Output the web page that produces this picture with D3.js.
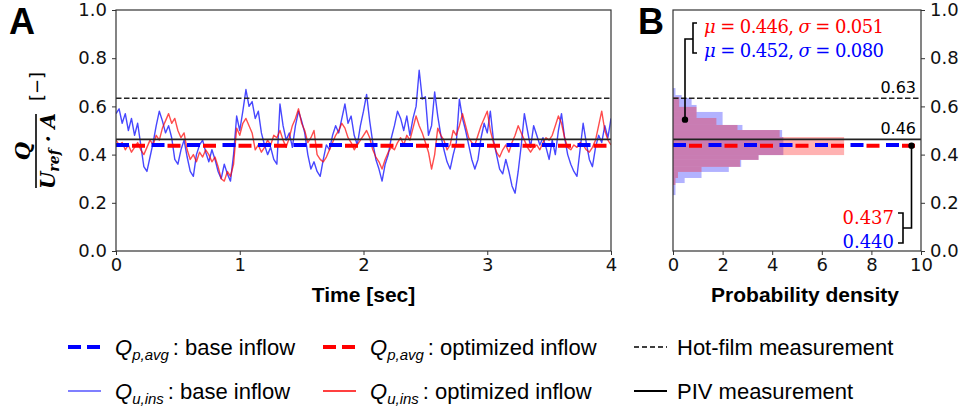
<!DOCTYPE html>
<html>
<head>
<meta charset="utf-8">
<script src="https://cdn.jsdelivr.net/npm/d3@7"></script>
<style>
  body { margin: 0; background: #fff; }
  svg { display: block; }
</style>
</head>
<body>
<div id="chart"></div>
<script>
// ---- data ----
const tStep = 0.025; // sec between samples

// Q_u,ins : base inflow
const qBase = [
  0.57, 0.59, 0.53, 0.57, 0.50, 0.55, 0.48, 0.53, 0.44, 0.35,
  0.33, 0.39, 0.45, 0.52, 0.58, 0.54, 0.49, 0.52, 0.47, 0.38,
  0.36, 0.42, 0.46, 0.39, 0.33, 0.31, 0.40, 0.44, 0.46, 0.41,
  0.37, 0.42, 0.38, 0.33, 0.30, 0.36, 0.32, 0.29, 0.40, 0.56,
  0.50, 0.58, 0.67, 0.60, 0.62, 0.55, 0.58, 0.49, 0.44, 0.40,
  0.43, 0.38, 0.36, 0.61, 0.52, 0.46, 0.49, 0.43, 0.52, 0.58,
  0.54, 0.49, 0.40, 0.34, 0.37, 0.33, 0.31, 0.38, 0.44, 0.42,
  0.48, 0.52, 0.49, 0.55, 0.61, 0.53, 0.56, 0.48, 0.44, 0.52,
  0.58, 0.65, 0.54, 0.45, 0.38, 0.34, 0.29, 0.36, 0.40, 0.47,
  0.52, 0.58, 0.55, 0.50, 0.56, 0.48, 0.55, 0.60, 0.75, 0.63,
  0.64, 0.48, 0.52, 0.66, 0.56, 0.48, 0.42, 0.37, 0.34, 0.40,
  0.45, 0.63, 0.55, 0.50, 0.44, 0.38, 0.34, 0.38, 0.47, 0.53,
  0.49, 0.58, 0.46, 0.40, 0.34, 0.32, 0.38, 0.33, 0.27, 0.24,
  0.33, 0.44, 0.57, 0.50, 0.43, 0.52, 0.48, 0.44, 0.47, 0.43,
  0.38, 0.46, 0.40, 0.50, 0.57, 0.47, 0.40, 0.36, 0.33, 0.31,
  0.42, 0.53, 0.45, 0.38, 0.35, 0.43, 0.48, 0.45, 0.52, 0.47,
  0.55
];

// Q_u,ins : optimized inflow
const qOpt = [
  0.46, 0.44, 0.45, 0.42, 0.44, 0.41, 0.43, 0.45, 0.42, 0.40,
  0.43, 0.46, 0.44, 0.48, 0.46, 0.51, 0.54, 0.57, 0.53, 0.55,
  0.50, 0.47, 0.49, 0.42, 0.38, 0.40, 0.37, 0.41, 0.39, 0.42,
  0.40, 0.37, 0.39, 0.35, 0.30, 0.29, 0.33, 0.31, 0.36, 0.51,
  0.48, 0.53, 0.55, 0.52, 0.49, 0.42, 0.44, 0.41, 0.43, 0.46,
  0.44, 0.48, 0.47, 0.50, 0.46, 0.43, 0.47, 0.52, 0.55, 0.59,
  0.53, 0.50, 0.45, 0.47, 0.50, 0.40, 0.38, 0.37, 0.39, 0.42,
  0.45, 0.48, 0.50, 0.53, 0.51, 0.47, 0.45, 0.42, 0.44, 0.46,
  0.48, 0.50, 0.47, 0.42, 0.39, 0.37, 0.34, 0.38, 0.41, 0.43,
  0.42, 0.45, 0.47, 0.44, 0.48, 0.46, 0.51, 0.56, 0.52, 0.49,
  0.45, 0.41, 0.34, 0.40, 0.51, 0.48, 0.46, 0.42, 0.44, 0.50,
  0.48, 0.52, 0.57, 0.52, 0.47, 0.45, 0.44, 0.48, 0.52, 0.55,
  0.58, 0.50, 0.45, 0.41, 0.39, 0.42, 0.44, 0.41, 0.45, 0.48,
  0.52, 0.49, 0.46, 0.43, 0.41, 0.43, 0.44, 0.42, 0.45, 0.47,
  0.46, 0.48, 0.52, 0.56, 0.53, 0.47, 0.43, 0.42, 0.44, 0.43,
  0.45, 0.44, 0.42, 0.41, 0.43, 0.46, 0.52, 0.58, 0.50, 0.46,
  0.44
];

// reference levels
const meanBase = 0.440;   // Q_p,avg base
const meanOpt = 0.437;    // Q_p,avg optimized
const hotFilm = 0.634;
const piv = 0.463;

// histograms (bin edges on Q, probability density)
const baseEdges = [0.232, 0.282, 0.303, 0.328, 0.349, 0.378, 0.398, 0.473, 0.502, 0.523, 0.552, 0.577, 0.606, 0.635, 0.647, 0.676];
const baseDens  = [0.10, 0.47, 1.15, 2.25, 2.75, 3.45, 4.45, 4.40, 2.80, 2.00, 2.00, 0.95, 0.75, 0.35, 0.10];
const optEdges  = [0.274, 0.303, 0.328, 0.349, 0.378, 0.398, 0.473, 0.502, 0.523, 0.552, 0.598, 0.639];
const optDens   = [0.10, 0.20, 1.15, 2.70, 3.45, 6.90, 4.30, 2.60, 1.75, 0.95, 0.25];

const stats = {
  opt:  {mu: "0.446", sigma: "0.051"},
  base: {mu: "0.452", sigma: "0.080"}
};

const timeTicks = [0, 1, 2, 3, 4];
const qTicks = [0, 0.2, 0.4, 0.6, 0.8, 1.0];
const densTicks = [0, 2, 4, 6, 8, 10];

// ---- layout ----
const width = 962, height = 411;
const aLeft = 116, aRight = 611, plotTop = 10, plotBottom = 251;
const bLeft = 673, bRight = 921;

const BLUE = "#0000ff", RED = "#ff0000";
const tickFont = "DejaVu Sans, sans-serif";

const svg = d3.select("#chart").append("svg")
  .attr("width", width)
  .attr("height", height)
  .attr("viewBox", [0, 0, width, height]);

const x = d3.scaleLinear([0, 4], [aLeft, aRight]);
const y = d3.scaleLinear([0, 1], [plotBottom, plotTop]);
const xd = d3.scaleLinear([0, 10], [bLeft, bRight]);

svg.append("defs").append("clipPath").attr("id", "clipA")
  .append("rect").attr("x", aLeft).attr("y", plotTop)
  .attr("width", aRight - aLeft).attr("height", plotBottom - plotTop);

// ================= panel A =================
const line = d3.line()
  .x((d, i) => x(i * tStep))
  .y(d => y(d));

const gA = svg.append("g").attr("clip-path", "url(#clipA)");

gA.append("path")
  .attr("fill", "none")
  .attr("stroke", BLUE)
  .attr("stroke-opacity", 0.72)
  .attr("stroke-width", 1.4)
  .attr("stroke-linejoin", "round")
  .attr("d", line(qBase));

gA.append("path")
  .attr("fill", "none")
  .attr("stroke", RED)
  .attr("stroke-opacity", 0.7)
  .attr("stroke-width", 1.4)
  .attr("stroke-linejoin", "round")
  .attr("d", line(qOpt));

// reference lines, shared by both panels
function refLines(g, x0, x1) {
  g.append("line")
    .attr("x1", x0).attr("x2", x1)
    .attr("y1", y(hotFilm)).attr("y2", y(hotFilm))
    .attr("stroke", "#222").attr("stroke-width", 1.5)
    .attr("stroke-dasharray", "5.5,2.5");
  g.append("line")
    .attr("x1", x0).attr("x2", x1)
    .attr("y1", y(piv)).attr("y2", y(piv))
    .attr("stroke", "#222").attr("stroke-width", 1.6);
  g.append("line")
    .attr("x1", x0).attr("x2", x1)
    .attr("y1", y(meanBase)).attr("y2", y(meanBase))
    .attr("stroke", BLUE).attr("stroke-width", 4)
    .attr("stroke-dasharray", "13,22.5");
  g.append("line")
    .attr("x1", x0).attr("x2", x1)
    .attr("y1", y(meanOpt)).attr("y2", y(meanOpt))
    .attr("stroke", RED).attr("stroke-width", 4)
    .attr("stroke-dasharray", "13,22.5")
    .attr("stroke-dashoffset", 19.5);
}
refLines(gA, aLeft, aRight);

// axes A
svg.append("g")
  .attr("transform", `translate(${aLeft},0)`)
  .call(d3.axisLeft(y).tickValues(qTicks).tickFormat(d3.format(".1f")).tickSize(4).tickPadding(5))
  .call(g => g.select(".domain").remove());

svg.append("g")
  .attr("transform", `translate(0,${plotBottom})`)
  .call(d3.axisBottom(x).tickValues(timeTicks).tickFormat(d3.format("d")).tickSize(4).tickPadding(3))
  .call(g => g.select(".domain").remove());

svg.append("rect")
  .attr("x", aLeft).attr("y", plotTop)
  .attr("width", aRight - aLeft).attr("height", plotBottom - plotTop)
  .attr("fill", "none").attr("stroke", "#333").attr("stroke-width", 1.2);

// ================= panel B =================
const gB = svg.append("g");

function hist(edges, dens, color) {
  gB.append("g").selectAll("rect")
    .data(dens)
    .join("rect")
    .attr("x", xd(0))
    .attr("y", (d, i) => y(edges[i + 1]))
    .attr("width", d => xd(d) - xd(0))
    .attr("height", (d, i) => y(edges[i]) - y(edges[i + 1]))
    .attr("fill", color)
    .attr("fill-opacity", 0.3);
}
hist(baseEdges, baseDens, BLUE);
hist(optEdges, optDens, RED);

refLines(gB, bLeft, bRight);

svg.append("g")
  .attr("transform", `translate(${bRight},0)`)
  .call(d3.axisRight(y).tickValues(qTicks).tickFormat(d3.format(".1f")).tickSize(4).tickPadding(5))
  .call(g => g.select(".domain").remove());

svg.append("g")
  .attr("transform", `translate(0,${plotBottom})`)
  .call(d3.axisBottom(xd).tickValues(densTicks).tickFormat(d3.format("d")).tickSize(4).tickPadding(3))
  .call(g => g.select(".domain").remove());

svg.append("rect")
  .attr("x", bLeft).attr("y", plotTop)
  .attr("width", bRight - bLeft).attr("height", plotBottom - plotTop)
  .attr("fill", "none").attr("stroke", "#333").attr("stroke-width", 1.2);

svg.selectAll(".tick text")
  .attr("font-family", tickFont)
  .attr("font-size", 18)
  .attr("fill", "#111");
svg.selectAll(".tick line").attr("stroke", "#333");

// value labels for the black lines
svg.append("text").attr("x", 916).attr("y", y(hotFilm) - 5)
  .attr("text-anchor", "end").attr("font-family", tickFont).attr("font-size", 16)
  .text(hotFilm.toFixed(2));
svg.append("text").attr("x", 916).attr("y", y(piv) - 5)
  .attr("text-anchor", "end").attr("font-family", tickFont).attr("font-size", 16)
  .text(piv.toFixed(2));

// mu / sigma annotation
const serif = "DejaVu Serif, serif";
function statText(ty, s, color) {
  const t = svg.append("text")
    .attr("x", 704).attr("y", ty)
    .attr("font-family", serif).attr("font-size", 18)
    .attr("fill", color)
    .attr("textLength", 180).attr("lengthAdjust", "spacing");
  t.append("tspan").attr("font-style", "italic").text("\u03bc");
  t.append("tspan").text(` = ${s.mu}, `);
  t.append("tspan").attr("font-style", "italic").text("\u03c3");
  t.append("tspan").text(` = ${s.sigma}`);
}
statText(33, stats.opt, RED);
statText(57, stats.base, BLUE);

const ann = svg.append("g").attr("stroke", "#000").attr("stroke-width", 1.6).attr("fill", "none");
// bracket joining the two stats lines, pointing into the histogram
ann.append("path").attr("d", `M697,23 H693 V53 H697`);
ann.append("path").attr("d", `M693,39 H685 V${y(0.545)}`);
svg.append("circle").attr("cx", 685).attr("cy", y(0.545)).attr("r", 3.2).attr("fill", "#000");

// bracket for the mean values
ann.append("path").attr("d", `M898,213 H903 V243 H898`);
ann.append("path").attr("d", `M903,228 H911.5 V${y(meanOpt)}`);
svg.append("circle").attr("cx", 911.5).attr("cy", y(meanOpt)).attr("r", 3.2).attr("fill", "#000");

svg.append("text").attr("x", 894).attr("y", 224)
  .attr("text-anchor", "end").attr("font-family", serif).attr("font-size", 18)
  .attr("fill", RED).text(meanOpt.toFixed(3));
svg.append("text").attr("x", 894).attr("y", 248)
  .attr("text-anchor", "end").attr("font-family", serif).attr("font-size", 18)
  .attr("fill", BLUE).text(meanBase.toFixed(3));

// ================= labels =================
const bold = "Liberation Sans, Arial, sans-serif";
svg.append("text").attr("x", (aLeft + aRight) / 2).attr("y", 302)
  .attr("text-anchor", "middle").attr("font-family", bold)
  .attr("font-weight", "bold").attr("font-size", 21).text("Time [sec]");
svg.append("text").attr("x", (bLeft + bRight) / 2 + 8).attr("y", 302)
  .attr("text-anchor", "middle").attr("font-family", bold)
  .attr("font-weight", "bold").attr("font-size", 21).text("Probability density");

svg.append("text").attr("x", 9).attr("y", 34)
  .attr("font-family", bold).attr("font-weight", "bold").attr("font-size", 36).text("A");
svg.append("text").attr("x", 638).attr("y", 34)
  .attr("font-family", bold).attr("font-weight", "bold").attr("font-size", 36).text("B");

// y label: Q / (U_ref . A) [-]
const yl = svg.append("g").attr("transform", "translate(36,151) rotate(-90)");
yl.append("line").attr("x1", -37).attr("x2", 37).attr("y1", 0).attr("y2", 0)
  .attr("stroke", "#000").attr("stroke-width", 1.6);
yl.append("text").attr("x", 0).attr("y", -6).attr("text-anchor", "middle")
  .attr("font-family", serif).attr("font-weight", "bold").attr("font-style", "italic")
  .attr("font-size", 21).text("Q");
const den = yl.append("text").attr("x", 0).attr("y", 19).attr("text-anchor", "middle")
  .attr("font-family", serif).attr("font-weight", "bold").attr("font-style", "italic")
  .attr("font-size", 20);
den.append("tspan").text("U");
den.append("tspan").attr("font-size", 14).attr("dy", 4).text("ref");
den.append("tspan").attr("dy", -4).text(" \u00b7 A");
yl.append("text").attr("x", 50).attr("y", 7)
  .attr("font-family", tickFont).attr("font-size", 18).text("[\u2212]");

// ================= legend =================
const legendRows = [347, 391];
const legendItems = [
  {col: 68,  row: 0, color: BLUE, width: 4, dash: "13,6", opacity: 1, q: "p,avg", label: ": base inflow"},
  {col: 323, row: 0, color: RED,  width: 4, dash: "13,6", opacity: 1, q: "p,avg", label: ": optimized inflow"},
  {col: 634, row: 0, color: "#000", width: 1.6, dash: "5,3", opacity: 1, q: null, label: "Hot-film measurement"},
  {col: 68,  row: 1, color: BLUE, width: 2, dash: null, opacity: 0.5, q: "u,ins", label: ": base inflow"},
  {col: 323, row: 1, color: RED,  width: 2, dash: null, opacity: 0.75, q: "u,ins", label: ": optimized inflow"},
  {col: 634, row: 1, color: "#000", width: 2, dash: null, opacity: 1, q: null, label: "PIV measurement"}
];
const lg = svg.append("g");
legendItems.forEach(it => {
  const ly = legendRows[it.row];
  lg.append("line")
    .attr("x1", it.col).attr("x2", it.col + 33)
    .attr("y1", ly).attr("y2", ly)
    .attr("stroke", it.color).attr("stroke-width", it.width)
    .attr("stroke-opacity", it.opacity)
    .attr("stroke-dasharray", it.dash);
  const t = lg.append("text")
    .attr("x", it.col + (it.q ? 47 : 43)).attr("y", ly + 8)
    .attr("font-family", bold).attr("font-size", 22).attr("fill", "#000");
  if (it.q) {
    t.append("tspan").attr("font-style", "italic").text("Q");
    t.append("tspan").attr("font-style", "italic").attr("font-size", 15).attr("dy", 5).text(it.q);
    t.append("tspan").attr("dy", -5).attr("dx", 4).text(it.label);
  } else {
    t.text(it.label);
  }
});
</script>
</body>
</html>
